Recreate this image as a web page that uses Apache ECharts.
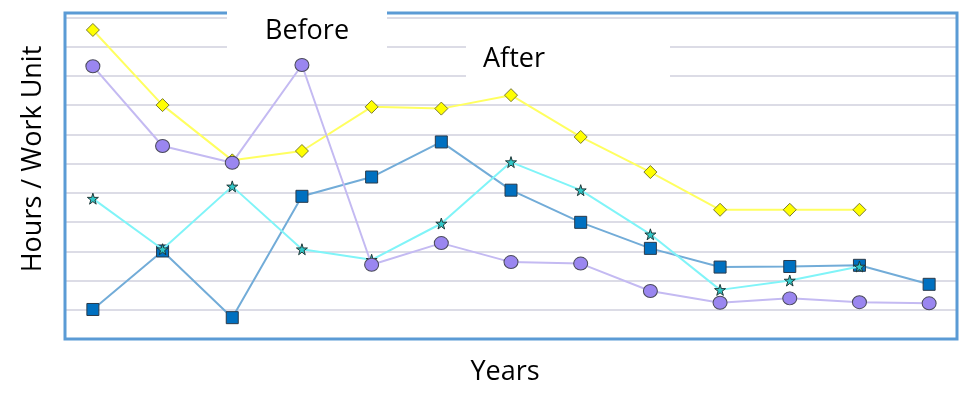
<!DOCTYPE html>
<html>
<head>
<meta charset="utf-8">
<script src="https://cdn.jsdelivr.net/npm/echarts@6/dist/echarts.min.js"></script>
<style>
html,body{margin:0;padding:0;background:#fff;}
#chart{width:961px;height:413px;}
</style>
</head>
<body>
<div id="chart"></div>
<script>
// Year index (no tick labels are shown in the reference)
var years = [0, 1, 2, 3, 4, 5, 6, 7, 8, 9, 10, 11, 12];
// Series values (hours / work unit, arbitrary units)
var yellowSeries = [10.57, 8.0, 6.11, 6.43, 7.94, 7.88, 8.34, 6.91, 5.71, 4.42, 4.42, 4.42, null];
var blueSeries   = [1.01, 3.01, 0.73, 4.88, 5.54, 6.74, 5.09, 3.99, 3.10, 2.46, 2.48, 2.52, 1.87];
var cyanSeries   = [4.80, 3.07, 5.22, 3.07, 2.71, 3.95, 6.05, 5.09, 3.58, 1.68, 2.00, 2.48, null];
var purpleSeries = [9.33, 6.60, 6.03, 9.37, 2.54, 3.28, 2.63, 2.58, 1.64, 1.24, 1.39, 1.26, 1.22];
var yTicks = [0, 1, 2, 3, 4, 5, 6, 7, 8, 9, 10, 11];

function pairs(vals) {
  return years.map(function (x, i) { return [x, vals[i]]; });
}

var STAR = 'path://M50,0 L61,35 L98,35 L68,57 L79,91 L50,70 L21,91 L32,57 L2,35 L39,35 Z';
var FONT = '"Open Sans", sans-serif';
var TXT = {font: '27px ' + FONT, fill: '#000', align: 'center', verticalAlign: 'middle'};
function txt(s) { return Object.assign({text: s}, TXT); }

var chart = echarts.init(document.getElementById('chart'), null, {renderer: 'canvas'});
chart.setOption({
  animation: false,
  backgroundColor: '#ffffff',
  grid: {
    left: 65, right: 4, top: 13, bottom: 74,
    show: false
  },
  xAxis: {
    type: 'value', min: -0.4, max: 12.4,
    axisLine: {show: false}, axisTick: {show: false}, axisLabel: {show: false},
    splitLine: {show: false}
  },
  yAxis: {
    type: 'value', min: yTicks[0], max: 11.15, interval: 1,
    axisLine: {show: false}, axisTick: {show: false}, axisLabel: {show: false},
    splitLine: {show: true, lineStyle: {color: '#dcdce6', width: 2}}
  },
  graphic: [
    {type: 'rect', z: 1, shape: {x: 65, y: 13, width: 892, height: 326},
      style: {fill: null, stroke: '#5b9bd5', lineWidth: 3}},
    {type: 'rect', z: 1, shape: {x: 227, y: 0, width: 160, height: 50}, style: {fill: '#ffffff'}},
    {type: 'rect', z: 1, shape: {x: 466, y: 22, width: 204, height: 58}, style: {fill: '#ffffff'}},
    {type: 'text', z: 1, x: 307, y: 31, style: txt('Before')},
    {type: 'text', z: 1, x: 514, y: 59, style: txt('After')},
    {type: 'text', z: 1, x: 505, y: 372, style: txt('Years')},
    {type: 'text', z: 1, x: 33, y: 159, rotation: Math.PI / 2, style: txt('Hours / Work Unit')}
  ],
  series: [
    {
      type: 'line', data: pairs(yellowSeries), symbol: 'diamond', symbolSize: 13,
      lineStyle: {color: '#ffff60', width: 2},
      itemStyle: {color: '#ffff00', borderColor: '#7a7a30', borderWidth: 1},
      z: 2
    },
    {
      type: 'line', data: pairs(blueSeries), symbol: 'rect', symbolSize: 12,
      lineStyle: {color: '#72acd8', width: 2},
      itemStyle: {color: '#0070c0', borderColor: '#2a3a4a', borderWidth: 1},
      z: 3
    },
    {
      type: 'line', data: pairs(cyanSeries), symbol: STAR, symbolSize: 11,
      lineStyle: {color: '#80f4f8', width: 2},
      itemStyle: {color: '#30c8c8', borderColor: '#203838', borderWidth: 1},
      z: 4
    },
    {
      type: 'line', data: pairs(purpleSeries), symbol: 'circle', symbolSize: [14, 13],
      lineStyle: {color: '#c4baf2', width: 2},
      itemStyle: {color: '#9a86f0', borderColor: '#4a4a5a', borderWidth: 1},
      z: 5
    }
  ]
});
</script>
</body>
</html>
